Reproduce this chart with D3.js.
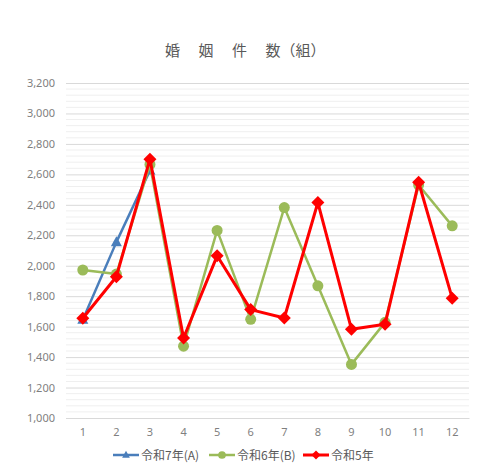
<!DOCTYPE html>
<html>
<head>
<meta charset="utf-8">
<script src="https://cdn.jsdelivr.net/npm/d3@7"></script>
<style>
  body { margin: 0; background: #fff; }
  text { font-family: "Noto Sans CJK JP", "Noto Sans", sans-serif; }
</style>
</head>
<body>
<div class="lineChart"></div>
<script>
const months = ["1","2","3","4","5","6","7","8","9","10","11","12"];
const r7 = [1645, 2155, 2625];
const r6 = [1972, 1945, 2665, 1472, 2232, 1648, 2382, 1868, 1352, 1628, 2530, 2262];
const r5 = [1655, 1928, 2700, 1525, 2065, 1712, 1657, 2415, 1583, 1615, 2548, 1787];
const yTicks = [1000, 1200, 1400, 1600, 1800, 2000, 2200, 2400, 2600, 2800, 3000, 3200];

const series = [
  { name: "令和7年(A)", values: r7, color: "#4A7EBB", shape: "triangle", width: 2.5 },
  { name: "令和6年(B)", values: r6, color: "#9BBB59", shape: "circle", width: 2.5 },
  { name: "令和5年", values: r5, color: "#FF0000", shape: "diamond", width: 3 }
];

const W = 480, H = 474;
let margin = { top: 83, right: 11, bottom: 56, left: 66 },
    width = W - margin.left - margin.right,
    height = H - margin.top - margin.bottom;

let svg = d3.select(".lineChart")
  .append("svg")
  .attr("width", W)
  .attr("height", H);

// title
let title = svg.append("text")
  .attr("x", 165)
  .attr("y", 56)
  .attr("font-size", 15)
  .attr("fill", "#595959");
title.append("tspan").attr("letter-spacing", "18.5px").text("婚姻件");
title.append("tspan").text("数（組）");

let g = svg.append("g")
  .attr("transform", "translate(" + margin.left + "," + margin.top + ")");

let x = d3.scaleBand().domain(months).range([0, width]);
let y = d3.scaleLinear().domain([1000, 3200]).range([height, 0]);
const cx = d => x(d) + x.bandwidth() / 2;

// minor grid
g.append("g")
  .selectAll("line")
  .data(d3.range(1000, 3201, 40).filter(v => v % 200 !== 0))
  .enter().append("line")
  .attr("x1", 0).attr("x2", width)
  .attr("y1", d => y(d)).attr("y2", d => y(d))
  .attr("stroke", "#efefef").attr("stroke-width", 1);

// y axis with major grid
let yAxis = g.append("g")
  .call(d3.axisLeft(y).tickValues(yTicks).tickSize(-width).tickFormat(d3.format(",")));
yAxis.select(".domain").remove();
yAxis.selectAll(".tick line").attr("stroke", "#d9d9d9").attr("stroke-width", 1);
yAxis.selectAll(".tick text")
  .attr("x", -11)
  .attr("font-size", 11)
  .attr("fill", "#7f7f7f")
  .style("font-family", "'Noto Sans', sans-serif");

// x axis
let xAxis = g.append("g")
  .attr("transform", "translate(0," + height + ")")
  .call(d3.axisBottom(x).tickSize(0));
xAxis.select(".domain").attr("stroke", "#d9d9d9");
xAxis.selectAll(".tick text")
  .attr("y", 10)
  .attr("font-size", 11)
  .attr("fill", "#7f7f7f")
  .style("font-family", "'Noto Sans', sans-serif");

const line = d3.line()
  .x((d, i) => cx(months[i]))
  .y(d => y(d));

function marker(sel, shape, color) {
  if (shape === "circle") {
    sel.append("circle").attr("r", 5.5).attr("fill", color);
  } else if (shape === "diamond") {
    sel.append("path").attr("d", "M0,-6.5L6.5,0L0,6.5L-6.5,0Z").attr("fill", color);
  } else {
    sel.append("path").attr("d", "M0,-6L5.5,4L-5.5,4Z").attr("fill", color);
  }
}

series.forEach(s => {
  g.append("path")
    .datum(s.values)
    .attr("fill", "none")
    .attr("stroke", s.color)
    .attr("stroke-width", s.width)
    .attr("stroke-linejoin", "round")
    .attr("d", line);
  g.selectAll(null)
    .data(s.values)
    .enter().append("g")
    .attr("transform", (d, i) => "translate(" + cx(months[i]) + "," + y(d) + ")")
    .each(function() { marker(d3.select(this), s.shape, s.color); });
});

// legend
const legendX = [113, 209, 303];
let legend = svg.append("g").attr("transform", "translate(0,455)");
series.forEach((s, i) => {
  let lg = legend.append("g").attr("transform", "translate(" + legendX[i] + ",0)");
  lg.append("line").attr("x1", 0).attr("x2", 26).attr("y1", 0).attr("y2", 0)
    .attr("stroke", s.color).attr("stroke-width", s.width);
  let m = lg.append("g").attr("transform", "translate(13,0) scale(0.7)");
  marker(m, s.shape, s.color);
  lg.append("text").attr("x", 28).attr("y", 4.5)
    .attr("font-size", 12).attr("fill", "#595959").text(s.name);
});
</script>
</body>
</html>
